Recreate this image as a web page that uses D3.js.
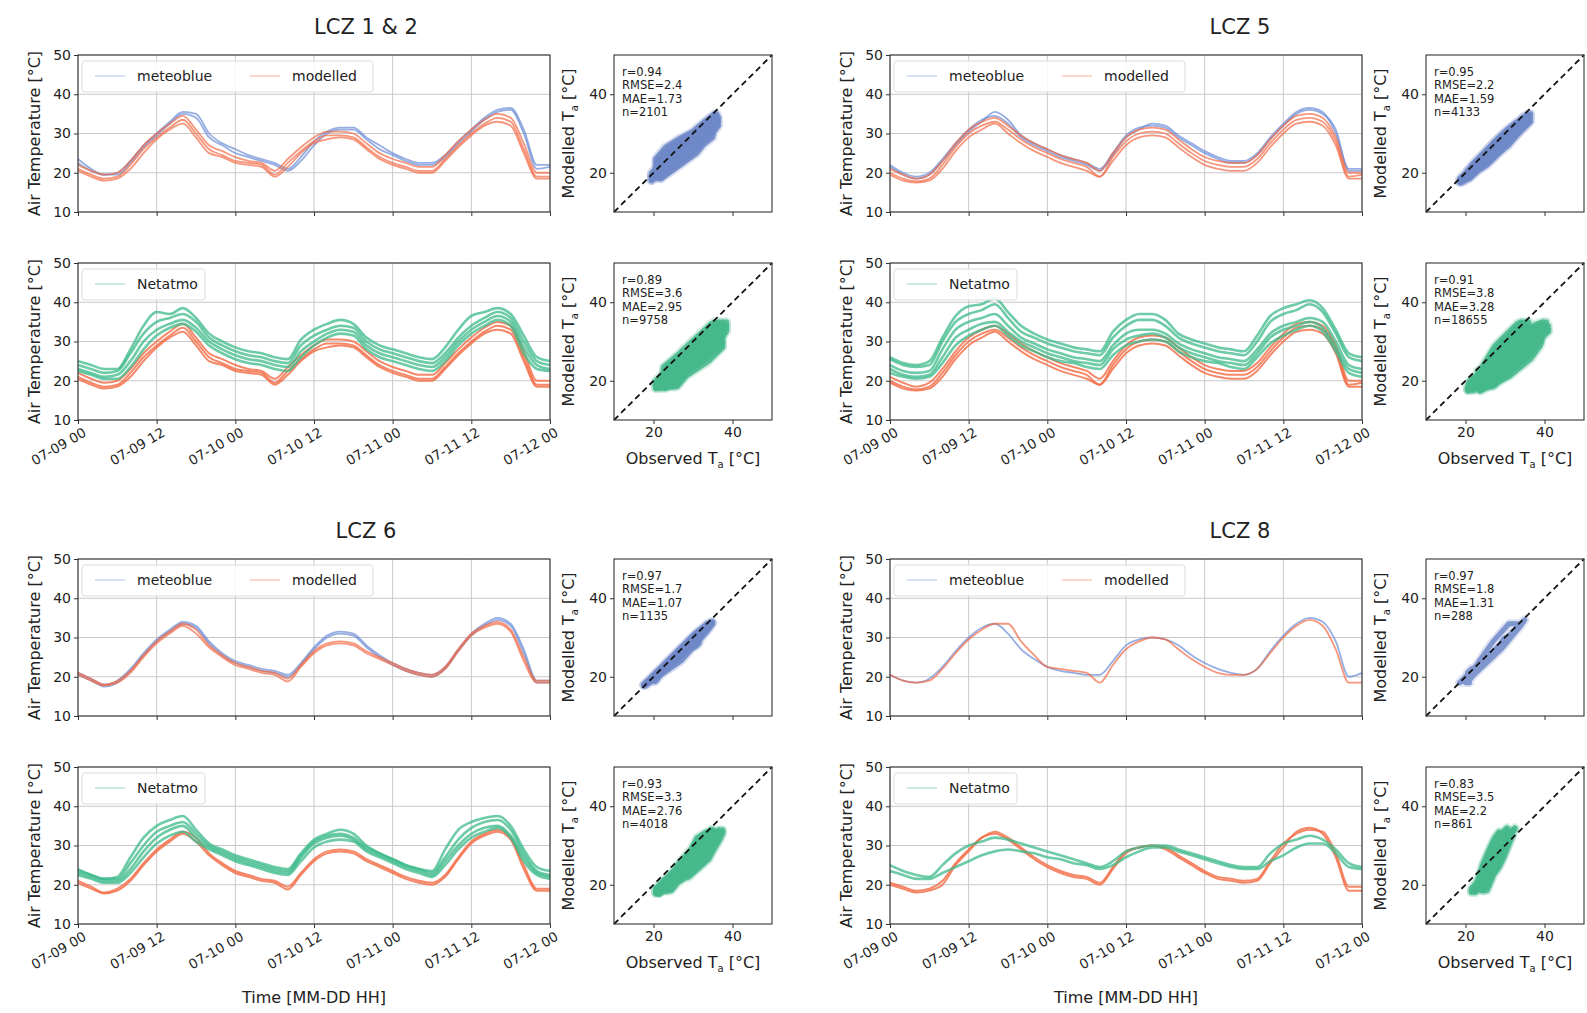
<!DOCTYPE html>
<html>
<head>
<meta charset="utf-8">
<script src="https://cdn.jsdelivr.net/npm/d3@7"></script>
<style>
body { margin: 0; background: #fff; }
svg text { font-family: "DejaVu Sans", sans-serif; fill: #222; }
</style>
</head>
<body>
<div id="graphSpace"></div>
<script>
// values read every 2 hours, 07-09 00 -> 07-12 00 (37 points)

// LCZ 1 & 2
var lcz12Modelled = [
    [21, 19.5, 18.5, 19, 22, 26, 29, 31.5, 33.5, 30, 26, 24.5, 23, 22.5, 22, 19.5, 22.5, 25.5, 28, 29.5, 29.5, 29, 26.5, 24, 22.5, 21.5, 20.5, 20.5, 23.5, 27, 30, 32.5, 34, 33, 26, 19, 19],
    [22, 20.5, 19.5, 20, 23, 27, 30, 32.5, 34.5, 31, 27, 25.5, 24, 23, 22.5, 20.5, 23.5, 26.5, 29, 30.5, 30.5, 30, 27.5, 25, 23.5, 22.5, 21.5, 21.5, 24.5, 28, 31, 33.5, 35, 34, 27.5, 20, 20],
    [20.5, 19, 18, 18.5, 21, 25, 28.5, 31, 32.5, 29, 25, 24, 22.5, 22, 21.5, 19, 21.5, 25, 27.5, 28.5, 29, 28.5, 26, 23.5, 22, 21, 20, 20, 23, 26.5, 29.5, 32, 33, 32, 25, 18.5, 18.5]
];
var lcz12Meteoblue = [
    [23.5, 21, 19.5, 20, 23, 27, 30, 33, 35.5, 35, 30, 27.5, 26, 24.5, 23.5, 22.5, 21, 24, 28, 30.5, 31.5, 31.5, 29, 27, 25, 23.5, 22.5, 22.5, 24.5, 28, 31, 34, 36, 36.5, 31, 22, 22],
    [22.5, 20.5, 19.5, 19.5, 22.5, 26.5, 29.5, 32.5, 35, 34, 29, 27, 25, 24, 23, 22, 20.5, 23, 27, 30, 31, 31, 28.5, 26, 24.5, 23, 22, 22, 24, 27.5, 30.5, 33.5, 35.5, 36, 30, 21, 21.5]
];
var lcz12Netatmo = [
    [24, 23, 22, 22.5, 27, 32, 35, 36, 37, 35, 31, 29, 27.5, 26.5, 26, 25, 24.5, 29, 31.5, 33, 34, 33.5, 30, 28, 27, 26, 25, 24.5, 27, 31, 34, 36, 37.5, 36, 30, 25, 24],
    [23, 22, 21, 21.5, 25, 30, 33, 34.5, 35.5, 33.5, 30, 28, 26.5, 25.5, 25, 24, 23.5, 27.5, 30, 32, 33, 32.5, 29, 27, 26, 25, 24, 23.5, 26, 30, 33, 35, 36.5, 35, 28.5, 24, 23],
    [25, 24, 23, 23, 28, 34, 37.5, 37, 38.5, 36, 32, 30, 28.5, 27.5, 27, 26, 25.5, 30.5, 33, 34.5, 35.5, 34.5, 31, 29, 28, 27, 26, 25.5, 28.5, 33, 36.5, 37.5, 38.5, 37, 31.5, 26, 25],
    [22.5, 21.5, 20.5, 20.5, 23.5, 28, 31.5, 33.5, 34.5, 32.5, 29, 27, 25.5, 24.5, 24, 23, 22.5, 26, 29, 31, 32, 31.5, 28, 26, 25, 24, 23, 22.5, 25, 29, 32, 34, 35.5, 34, 27, 23, 22.5]
];
var lcz12StatsMB = [0.94, 2.4, 1.73, 2101];
var lcz12StatsNA = [0.89, 3.6, 2.95, 9758];

// LCZ 5
var lcz5Modelled = [
    [20, 18.5, 17.8, 18.5, 22, 26.5, 30, 32, 33, 31, 28.5, 26.5, 25, 23.5, 22.5, 21.5, 19, 24, 28, 30, 30.5, 30, 27.5, 25, 23, 22, 21.5, 21.5, 23.5, 27.5, 31, 33.5, 34, 33, 28, 19, 19.5],
    [21, 19.5, 18.5, 19.5, 23, 27.5, 31, 33, 34, 32, 29.5, 27.5, 26, 24.5, 23.5, 22.5, 20.5, 25, 29, 31, 31.5, 31, 28.5, 26, 24, 23, 22.5, 22.5, 24.5, 28.5, 32, 34.5, 35, 34, 29, 20, 20],
    [19.5, 18, 17.5, 18, 21, 25.5, 29, 31, 32.5, 30, 27.5, 25.5, 24, 22.5, 21.5, 20.5, 19, 23, 27, 29, 29.5, 29, 26.5, 24, 22, 21, 20.5, 20.5, 22.5, 26.5, 30, 32.5, 33, 32, 27, 18.5, 18.5]
];
var lcz5Meteoblue = [
    [21.5, 19.5, 18.5, 19.5, 23, 27, 30.5, 33, 35.5, 33.5, 29.5, 27.5, 26, 24.5, 23.5, 22.5, 21, 25, 29.5, 31.5, 32, 31.5, 29, 27, 25, 23.5, 22.5, 22.5, 24.5, 28.5, 32, 35, 36, 35, 31, 20.5, 20.5],
    [22, 20, 19, 20, 23.5, 27.5, 31, 33.5, 34.5, 32.5, 29, 27, 25.5, 24, 23, 22, 20.5, 24.5, 29, 31, 32.5, 32, 29.5, 27.5, 25.5, 24, 23, 23, 25, 29, 32.5, 35.5, 36.5, 35.5, 30, 21, 21]
];
var lcz5Netatmo = [
    [24, 22.5, 22, 22.5, 28, 33, 35, 36, 37, 34, 31, 29.5, 28, 27, 26, 25.5, 25, 29, 32, 33, 33, 32, 29.5, 28, 27, 26, 25.5, 25, 28, 32, 34, 35, 36, 35, 30, 24, 23],
    [25.5, 24, 23.5, 24, 30, 35, 37, 38, 39.5, 36, 32.5, 31, 29.5, 28.5, 27.5, 27, 26.5, 31, 34, 35.5, 35.5, 34, 31, 29.5, 28.5, 27.5, 27, 26.5, 30, 35, 37, 38, 39.5, 37.5, 32, 26, 25],
    [23, 21.5, 21, 21.5, 26, 31, 33, 34.5, 35, 32.5, 30, 28.5, 27, 26, 25, 24.5, 24, 28, 30.5, 31.5, 32, 31, 28.5, 27, 26, 25, 24.5, 24, 27, 31, 33, 34, 35, 33.5, 28.5, 23, 22],
    [26, 24.5, 24, 25, 31, 36.5, 39, 39.5, 41, 37.5, 34, 32, 30.5, 29.5, 28.5, 28, 27.5, 32.5, 35.5, 37, 37, 35.5, 32, 30.5, 29.5, 28.5, 28, 27.5, 31.5, 36.5, 38.5, 39.5, 40.5, 38.5, 33, 27, 26],
    [22, 21, 20.5, 21, 24.5, 29, 31.5, 33, 34, 31.5, 29, 27.5, 26, 25, 24.5, 23.5, 23, 26.5, 29, 30, 30.5, 30, 27.5, 26, 25, 24.5, 23.5, 23, 26, 29.5, 31.5, 33, 34, 32.5, 27.5, 22, 21]
];
var lcz5StatsMB = [0.95, 2.2, 1.59, 4133];
var lcz5StatsNA = [0.91, 3.8, 3.28, 18655];

// LCZ 6
var lcz6Modelled = [
    [20.5, 19, 17.8, 18.5, 21, 25, 28.5, 31, 33, 31, 27.5, 25, 23, 22, 21, 20.5, 18.8, 22.5, 26, 28, 28.5, 28, 26, 24.5, 23, 21.5, 20.5, 20, 22, 26.5, 30.5, 32.5, 33.5, 31.5, 24, 18.5, 18.5],
    [21, 19.5, 18, 19, 21.5, 25.5, 29, 31.5, 33.5, 32, 28, 25.5, 23.5, 22.5, 21.5, 21, 19.5, 23, 26.5, 28.5, 29, 28.5, 26.5, 25, 23.5, 22, 21, 20.5, 22.5, 27, 31, 33, 34, 32, 25, 19, 19]
];
var lcz6Meteoblue = [
    [21, 19.5, 18, 19, 22, 26, 29.5, 32, 34, 33, 29, 26, 24, 23, 22, 21.5, 20.5, 23.5, 27.5, 30.5, 31.5, 31, 28, 25.5, 23.5, 22, 21, 20.5, 22.5, 27, 31, 33.5, 35, 33.5, 27, 19, 19],
    [20.5, 19, 17.5, 18.5, 21.5, 25.5, 29, 31.5, 33.5, 32.5, 28.5, 25.5, 23.5, 22.5, 21.5, 21, 20, 23, 27, 30, 31, 30.5, 27.5, 25, 23, 21.5, 20.5, 20, 22, 26.5, 30.5, 33, 34.5, 33, 26, 18.5, 18.5]
];
var lcz6Netatmo = [
    [23, 22, 21, 21, 24, 28.5, 32, 34, 35, 32, 29.5, 28, 26.5, 25.5, 24.5, 23.5, 23, 27, 30.5, 32, 32.5, 31.5, 29, 27.5, 26, 24.5, 23.5, 22.5, 26, 30, 33, 34.5, 35, 32.5, 27, 23, 22],
    [24, 22.5, 21.5, 22, 27, 32, 35, 36.5, 37.5, 34, 30.5, 29, 27.5, 26.5, 25.5, 24.5, 24, 28, 31.5, 33, 34, 33, 30, 28, 26.5, 25, 24, 23.5, 29, 34, 36, 37, 37.5, 35, 29, 24.5, 23.5],
    [22.5, 21.5, 20.5, 20.5, 23, 27, 30.5, 32.5, 33.5, 31, 29, 27.5, 26, 25, 24, 23, 22.5, 26, 29.5, 31, 31.5, 31, 28.5, 27, 25.5, 24, 23, 22, 25, 29, 32, 33.5, 34.5, 32, 26, 22.5, 21.5],
    [23.5, 22.5, 21.5, 21.5, 25.5, 30, 33.5, 35, 36, 33, 30, 28.5, 27, 26, 25, 24, 23.5, 27.5, 31, 32.5, 33, 32, 29.5, 28, 26.5, 25, 24, 23, 27, 31.5, 34.5, 36, 36.5, 34, 28, 23.5, 22.5]
];
var lcz6StatsMB = [0.97, 1.7, 1.07, 1135];
var lcz6StatsNA = [0.93, 3.3, 2.76, 4018];

// LCZ 8
var lcz8Modelled = [
    [20.5, 19, 18.5, 19, 22, 26, 29.5, 32, 33.5, 33.5, 29, 25.5, 22.5, 22, 21.5, 21, 18.5, 23, 27, 29, 30, 29.5, 27, 24.5, 22.5, 21, 20.5, 20.5, 22, 26, 30, 33, 34.5, 33, 27, 18.5, 18.5]
];
var lcz8Meteoblue = [
    [20.5, 19, 18.5, 19.5, 22.5, 26.5, 30, 32.5, 33.5, 31, 27, 24.5, 22.5, 21.5, 21, 20.5, 20.5, 24, 28, 29.5, 30, 29.5, 28, 25.5, 23.5, 22, 21, 20.5, 22, 26.5, 30.5, 33.5, 35, 34, 29, 20, 21]
];
var lcz8ModelledNA = [
    [20, 19, 18, 18.5, 20, 25, 28.5, 32, 33, 31.5, 29, 26.5, 24.5, 23, 22, 21.5, 20, 24, 28, 29.5, 30, 29, 27, 25, 23, 21.5, 21, 20.5, 21, 25.5, 29.5, 33.5, 34.5, 33, 27, 18.5, 18.5],
    [20.5, 19.5, 18.5, 19, 21, 25.5, 29, 32, 33.5, 32, 29.5, 27, 25, 23.5, 22.5, 22, 20.5, 24.5, 28.5, 29.5, 30, 29.5, 27.5, 25.5, 23.5, 22, 21.5, 21, 21.5, 26, 30.5, 33, 34, 33.5, 28, 19.5, 19.5]
];
var lcz8Netatmo = [
    [25, 23.5, 22.5, 22, 25, 28, 30, 31, 32, 31.5, 30.5, 29.5, 28.5, 27.5, 26.5, 25.5, 24.5, 26, 28.5, 29.5, 30, 30, 29, 28, 27, 26, 25, 24.5, 24.5, 28, 30.5, 31.5, 32.5, 31.5, 29, 25.5, 24.5],
    [23.5, 22.5, 21.5, 21.5, 23, 24.5, 26, 27.5, 28.5, 29, 28.5, 28, 27, 26.5, 25.5, 25, 24, 25, 27, 28.5, 29.5, 29.5, 28.5, 27.5, 26.5, 25.5, 24.5, 24, 24, 26, 27.5, 29.5, 30.5, 30.5, 28, 24.5, 24]
];
var lcz8StatsMB = [0.97, 1.8, 1.31, 288];
var lcz8StatsNA = [0.83, 3.5, 2.2, 861];

var yTicks = [10, 20, 30, 40, 50];
var scatterTicks = [20, 40];

// colours
var colMB = "#6a8cd6", colMod = "#f26a44", colNA = "#3cb98b";
var scatMB = "#6f88c8", scatNA = "#45b98b";

var width = 1587, height = 1013;
var pw = 472, ph = 157;          // time panel
var sw = 158;                    // scatter box

var t0 = new Date(2023, 6, 9, 0);
var t1 = d3.timeHour.offset(t0, 72);
var times = d3.range(0, 73, 2).map(function (h) { return d3.timeHour.offset(t0, h); });

var svg = d3.select("#graphSpace").append("svg")
    .attr("width", width)
    .attr("height", height);

var blocks = [
    {title: "LCZ 1 & 2", ox: 0, oy: 0, tx: 366, mod: lcz12Modelled, modNA: lcz12Modelled, mb: lcz12Meteoblue, na: lcz12Netatmo, sMB: lcz12StatsMB, sNA: lcz12StatsNA, last: false},
    {title: "LCZ 5", ox: 812, oy: 0, tx: 1240, mod: lcz5Modelled, modNA: lcz5Modelled, mb: lcz5Meteoblue, na: lcz5Netatmo, sMB: lcz5StatsMB, sNA: lcz5StatsNA, last: false},
    {title: "LCZ 6", ox: 0, oy: 504, tx: 366, mod: lcz6Modelled, modNA: lcz6Modelled, mb: lcz6Meteoblue, na: lcz6Netatmo, sMB: lcz6StatsMB, sNA: lcz6StatsNA, last: true},
    {title: "LCZ 8", ox: 812, oy: 504, tx: 1240, mod: lcz8Modelled, modNA: lcz8ModelledNA, mb: lcz8Meteoblue, na: lcz8Netatmo, sMB: lcz8StatsMB, sNA: lcz8StatsNA, last: true}
];

blocks.forEach(function (b) {
    svg.append("text")
        .attr("x", b.tx)
        .attr("y", b.oy + 34)
        .attr("text-anchor", "middle")
        .style("font-size", "21px")
        .text(b.title);

    // top row: meteoblue vs modelled
    var gTop = svg.append("g").attr("transform", "translate(" + (b.ox + 78) + "," + (b.oy + 55) + ")");
    timePanel(gTop, [{data: b.mb, color: colMB, w: 1.8, o: 0.7}, {data: b.mod, color: colMod, w: 1.8, o: 0.7}],
        [{name: "meteoblue", color: colMB}, {name: "modelled", color: colMod}], false, false);

    var sTop = svg.append("g").attr("transform", "translate(" + (b.ox + 614) + "," + (b.oy + 55) + ")");
    scatterPanel(sTop, b.mb, b.mod, scatMB, b.sMB, false);

    // bottom row: Netatmo vs modelled
    var gBot = svg.append("g").attr("transform", "translate(" + (b.ox + 78) + "," + (b.oy + 263) + ")");
    timePanel(gBot, [{data: b.modNA, color: colMod, w: 2, o: 0.8}, {data: b.na, color: colNA, w: 2.6, o: 0.75}],
        [{name: "Netatmo", color: colNA}], true, b.last);

    var sBot = svg.append("g").attr("transform", "translate(" + (b.ox + 614) + "," + (b.oy + 263) + ")");
    scatterPanel(sBot, b.na, b.modNA, scatNA, b.sNA, true);
});

function styleAxis(a) {
    a.select(".domain").remove();
    a.selectAll(".tick line").attr("stroke", "#333").attr("stroke-width", 1);
    a.selectAll(".tick text").style("font-size", "14px").attr("fill", "#222");
}

function timePanel(g, groups, legendItems, labelled, xTitle) {
    var x = d3.scaleTime().domain([t0, t1]).range([0, pw]);
    var y = d3.scaleLinear().domain([10, 50]).range([ph, 0]);
    var xTicks = d3.range(0, 73, 12).map(function (h) { return d3.timeHour.offset(t0, h); });

    // grid
    g.selectAll(".gx").data(xTicks).enter().append("line")
        .attr("x1", d => x(d)).attr("x2", d => x(d))
        .attr("y1", 0).attr("y2", ph)
        .attr("stroke", "#c8c8c8").attr("stroke-width", 1);
    g.selectAll(".gy").data(yTicks).enter().append("line")
        .attr("x1", 0).attr("x2", pw)
        .attr("y1", d => y(d)).attr("y2", d => y(d))
        .attr("stroke", "#c8c8c8").attr("stroke-width", 1);

    var line = d3.line()
        .curve(d3.curveMonotoneX)
        .x(function (d, i) { return x(times[i]); })
        .y(function (d) { return y(d); });

    groups.forEach(function (grp) {
        g.append("g").selectAll("path")
            .data(grp.data)
            .enter().append("path")
            .attr("d", line)
            .attr("fill", "none")
            .attr("stroke", grp.color)
            .attr("stroke-width", grp.w)
            .attr("stroke-opacity", grp.o)
            .attr("stroke-linejoin", "round");
    });

    g.append("rect")
        .attr("width", pw).attr("height", ph)
        .attr("fill", "none").attr("stroke", "#333").attr("stroke-width", 1.1);

    var ay = g.append("g").call(d3.axisLeft(y).tickValues(yTicks).tickSize(4).tickPadding(3));
    styleAxis(ay);

    var ax = g.append("g").attr("transform", "translate(0," + ph + ")")
        .call(d3.axisBottom(x).tickValues(xTicks).tickSize(4)
            .tickFormat(labelled ? d3.timeFormat("%m-%d %H") : ""));
    styleAxis(ax);
    ax.selectAll(".tick text")
        .style("font-size", "13.5px")
        .attr("x", 0).attr("y", 0).attr("dy", "0.71em")
        .attr("text-anchor", "end")
        .attr("transform", "translate(4,7) rotate(-30)");

    g.append("text")
        .attr("transform", "translate(-44," + (ph / 2) + ") rotate(-90)")
        .attr("text-anchor", "middle")
        .attr("dy", "0.35em")
        .style("font-size", "16px")
        .text("Air Temperature [°C]");

    if (xTitle) {
        g.append("text")
            .attr("x", pw / 2).attr("y", ph + 79)
            .attr("text-anchor", "middle")
            .style("font-size", "16px")
            .text("Time [MM-DD HH]");
    }

    // legend
    var legW = legendItems.length > 1 ? 291 : 123;
    var leg = g.append("g").attr("transform", "translate(4,6)");
    leg.append("rect")
        .attr("width", legW).attr("height", 31).attr("rx", 3)
        .attr("fill", "#fff").attr("fill-opacity", 0.85)
        .attr("stroke", "#ddd");
    legendItems.forEach(function (it, i) {
        var lx = i * 155;
        leg.append("line")
            .attr("x1", lx + 13).attr("x2", lx + 43)
            .attr("y1", 15).attr("y2", 15)
            .attr("stroke", it.color).attr("stroke-width", 2).attr("stroke-opacity", 0.28);
        leg.append("text")
            .attr("x", lx + 55).attr("y", 15).attr("dy", "0.35em")
            .style("font-size", "14px")
            .text(it.name);
    });
}

function scatterPanel(g, obs, mod, color, stats, labelled) {
    var x = d3.scaleLinear().domain([10, 50]).range([0, sw]);
    var y = d3.scaleLinear().domain([10, 50]).range([ph, 0]);

    // every observed series paired with every modelled one, in time order
    var tracks = [];
    obs.forEach(function (o) {
        mod.forEach(function (m) {
            tracks.push(o.map(function (v, i) { return [v, m[i]]; }));
        });
    });

    var line = d3.line().x(d => x(d[0])).y(d => y(d[1]));
    // soft halo, then the dense core
    [{w: 9, o: 0.25}, {w: 5, o: 0.85}].forEach(function (s) {
        g.append("g").selectAll("path")
            .data(tracks)
            .enter().append("path")
            .attr("d", line)
            .attr("fill", "none")
            .attr("stroke", color)
            .attr("stroke-width", s.w)
            .attr("stroke-opacity", s.o)
            .attr("stroke-linejoin", "round")
            .attr("stroke-linecap", "round");
    });

    g.append("line")
        .attr("x1", x(10)).attr("y1", y(10))
        .attr("x2", x(50)).attr("y2", y(50))
        .attr("stroke", "#111").attr("stroke-width", 1.8)
        .attr("stroke-dasharray", "6,4");

    g.append("rect")
        .attr("width", sw).attr("height", ph)
        .attr("fill", "none").attr("stroke", "#333").attr("stroke-width", 1.1);

    var ay = g.append("g").call(d3.axisLeft(y).tickValues(scatterTicks).tickSize(4).tickPadding(3));
    styleAxis(ay);
    var ax = g.append("g").attr("transform", "translate(0," + ph + ")")
        .call(d3.axisBottom(x).tickValues(scatterTicks).tickSize(4).tickPadding(3)
            .tickFormat(labelled ? d3.format("d") : ""));
    styleAxis(ax);

    var lines = ["r=" + stats[0], "RMSE=" + stats[1], "MAE=" + stats[2], "n=" + stats[3]];
    g.append("g").selectAll("text")
        .data(lines)
        .enter().append("text")
        .attr("x", 8)
        .attr("y", function (d, i) { return 21 + i * 13.3; })
        .style("font-size", "11.5px")
        .text(d => d);

    var yl = g.append("text")
        .attr("transform", "translate(-46," + (ph / 2) + ") rotate(-90)")
        .attr("text-anchor", "middle")
        .attr("dy", "0.35em")
        .style("font-size", "16px");
    subLabel(yl, "Modelled T");

    if (labelled) {
        var xl = g.append("text")
            .attr("x", sw / 2).attr("y", ph + 44)
            .attr("text-anchor", "middle")
            .style("font-size", "16px");
        subLabel(xl, "Observed T");
    }
}

function subLabel(t, head) {
    t.append("tspan").text(head);
    t.append("tspan").attr("dy", 4).style("font-size", "10px").text("a");
    t.append("tspan").attr("dy", -4).text(" [°C]");
}
</script>
</body>
</html>
